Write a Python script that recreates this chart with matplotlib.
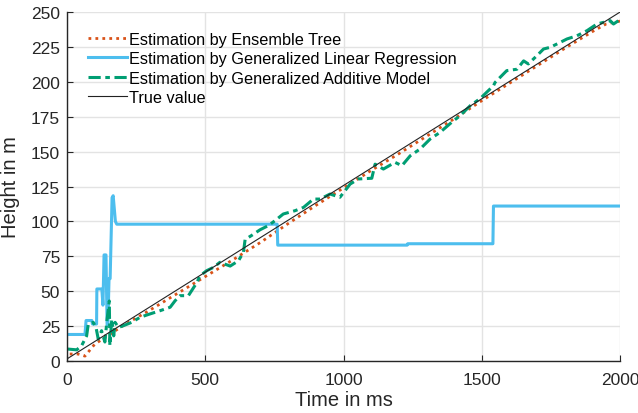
import numpy as np
import matplotlib.pyplot as plt

plt.rcParams['font.family'] = ['Liberation Sans', 'DejaVu Sans']

# True value (straight line)
t_true = [0, 2000]
h_true = [1.5, 250]

# Ensemble tree estimate
t_ens = [10, 40, 65, 100, 150, 200, 300, 400, 500, 600, 700, 800, 900, 1000,
         1100, 1200, 1300, 1400, 1500, 1600, 1700, 1800, 1900, 1950, 2000]
h_ens = [5, 5, 3.5, 12, 18.5, 25, 36.5, 48.5, 60.5, 72.5, 85, 98.5, 111.5, 124,
         136.5, 148.5, 161, 173.5, 186.5, 199, 211.5, 224, 236, 241.5, 243.5]

# Generalized linear regression estimate
t_glr = [0, 65, 69, 90, 92, 107, 108, 126, 130, 134, 141, 145, 148, 152, 156, 163, 167, 175, 180,
         760, 762, 1230, 1232, 1540, 1542, 2000]
h_glr = [19, 19, 29, 29, 26.5, 26.5, 51.6, 51.6, 40, 76, 76, 26, 26, 59, 59, 117, 118.4, 100, 98,
         98, 83, 83, 84, 84, 111, 111]

# Generalized additive model estimate
t_gam = [0, 35, 53, 71, 77, 95, 105, 113, 125, 137, 145, 153, 155, 162, 169, 174, 186, 204,
         234, 264, 300, 336, 373, 391, 409, 439, 469, 481, 505, 529, 553, 590, 620, 638,
         644, 668, 698, 728, 752, 782, 825, 855, 891, 915, 951, 987, 1024, 1054, 1102,
         1114, 1144, 1186, 1211, 1241, 1277, 1313, 1349, 1391, 1421, 1458, 1494, 1542,
         1548, 1590, 1627, 1651, 1668, 1699, 1723, 1747, 1783, 1808, 1844, 1880, 1916,
         1964, 1976, 1994]
h_gam = [8.6, 8, 11, 18, 26.5, 27.7, 24, 15.7, 21.7, 13.6, 30, 43, 11, 30, 18, 27.7, 24, 25.3,
         27.7, 31.3, 33.7, 36, 38.5, 43.2, 46.8, 46.8, 56, 61, 64.7, 67, 70.7, 68, 71.8, 77.9,
         87, 90, 94, 97, 100.5, 105.3, 107.7, 110, 116, 116, 119.6, 117.3, 126.8, 130.4, 130.9,
         141, 137.5, 142.3, 139.9, 147, 151.9, 159, 163.8, 171, 175.7, 182.9, 188, 197.2,
         199.6, 208, 209, 215, 212.8, 218.7, 223.5, 224.7, 228.2, 230.7, 233, 236.6, 241.4,
         243.8, 241.4, 243.8]

fig = plt.figure(figsize=(6.38, 4.14), dpi=100)
ax = fig.add_axes([0.105, 0.1256, 0.867, 0.843])

ax.plot(t_ens, h_ens, linestyle=(0, (1, 1.5)), color='#D95319', lw=2,
        label='Estimation by Ensemble Tree')
ax.plot(t_glr, h_glr, '-', color='#4DBEEE', lw=2.2,
        label='Estimation by Generalized Linear Regression')
ax.plot(t_gam, h_gam, linestyle=(0, (4, 1.5, 1.5, 1.5)), color='#009E73', lw=2.2,
        label='Estimation by Generalized Additive Model')
ax.plot(t_true, h_true, '-', color='#222222', lw=0.8, label='True value')

ax.set_xlim(0, 2000)
ax.set_ylim(0, 250)
ax.set_xticks(np.arange(0, 2001, 500))
ax.set_yticks(np.arange(0, 251, 25))
ax.grid(True, color='#e3e3e3', lw=1)
ax.set_axisbelow(True)
for s in ['top', 'right']:
    ax.spines[s].set_visible(False)
for s in ['left', 'bottom']:
    ax.spines[s].set_color('#262626')
    ax.spines[s].set_linewidth(1)
ax.tick_params(direction='in', labelsize=12.5, length=4, colors='#262626')
ax.tick_params(axis='x', pad=8)
ax.tick_params(axis='y', pad=5)
ax.set_xlabel('Time in ms', fontsize=14.5, labelpad=2, color='#262626')
ax.set_ylabel('Height in m', fontsize=14.5, labelpad=8, color='#262626')

ax.legend(loc='upper left', frameon=False, fontsize=11.7, handlelength=2.4,
          handletextpad=0.15, labelspacing=0.27, borderaxespad=0,
          bbox_to_anchor=(0.026, 0.962))

fig.savefig('out.png', dpi=100)
